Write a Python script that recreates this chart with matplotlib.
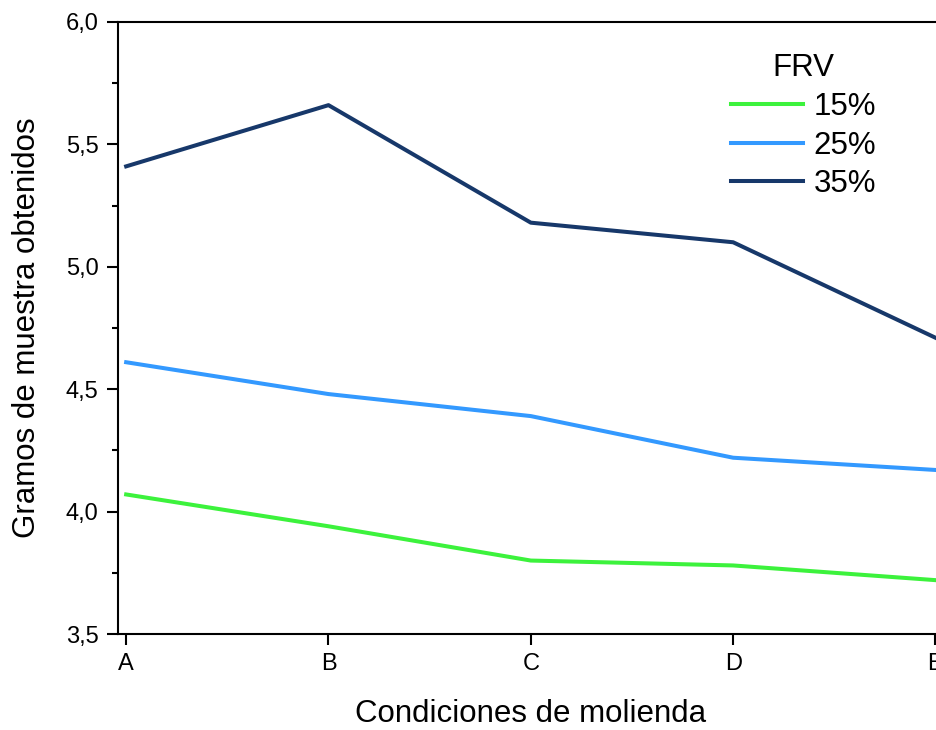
import matplotlib
matplotlib.use("Agg")
import matplotlib.pyplot as plt
from matplotlib.ticker import MultipleLocator, FuncFormatter

plt.rcParams['font.family'] = ['Liberation Sans', 'DejaVu Sans']

# condiciones de molienda
conditions = ["A", "B", "C", "D", "E"]

# gramos de muestra obtenidos por FRV
frv_15 = [4.07, 3.94, 3.80, 3.78, 3.72]
frv_25 = [4.61, 4.48, 4.39, 4.22, 4.17]
frv_35 = [5.41, 5.66, 5.18, 5.10, 4.71]

series_labels = ["15%", "25%", "35%"]
colors = ["#3cf23c", "#3399ff", "#17386a"]

fig = plt.figure(figsize=(9.37, 7.3), dpi=100)
ax = fig.add_axes([0.126, 0.1315, 0.881, 0.8385])

x = list(range(len(conditions)))
for vals, lab, col in zip([frv_15, frv_25, frv_35], series_labels, colors):
    ax.plot(x, vals, color=col, lw=2.9, label=lab)

ax.set_xlim(-0.04, 4.04)
ax.set_ylim(3.5, 6.0)
ax.set_xticks(x)
ax.set_xticklabels(conditions)
ax.yaxis.set_major_locator(MultipleLocator(0.5))
ax.yaxis.set_minor_locator(MultipleLocator(0.25))
ax.yaxis.set_major_formatter(FuncFormatter(lambda v, p: f"{v:.1f}".replace(".", ",")))

for s in ax.spines.values():
    s.set_linewidth(1.5)
ax.tick_params(axis='both', which='major', length=8, width=1.5, labelsize=17, pad=6)
ax.tick_params(axis='y', which='minor', length=4, width=1.5)

ax.set_xlabel("Condiciones de molienda", fontsize=22.5, labelpad=17)
ax.set_ylabel("Gramos de muestra obtenidos", fontsize=22.5, labelpad=17)

leg = ax.legend(title="FRV", fontsize=22.5, title_fontsize=22.5, frameon=False,
                loc="upper left", bbox_to_anchor=(0.708, 0.995),
                handlelength=2.3, handletextpad=0.35, labelspacing=0.28)

fig.savefig("out.png", dpi=100)
